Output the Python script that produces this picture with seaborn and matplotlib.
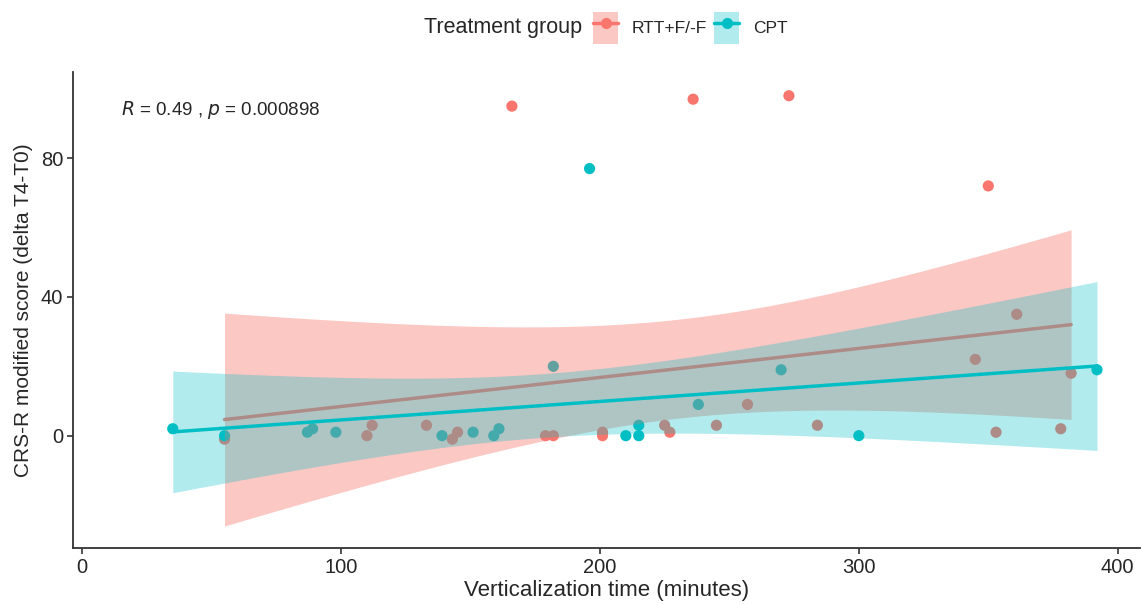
import numpy as np
import pandas as pd
import matplotlib
matplotlib.use("Agg")
import matplotlib.pyplot as plt
import seaborn as sns
from matplotlib.patches import Patch
from matplotlib.lines import Line2D
from matplotlib.legend_handler import HandlerTuple

# values
rtt_time = [166, 236, 273, 350, 55, 112, 110, 133, 143, 145, 179, 182,
            201, 201, 225, 227, 245, 257, 284, 361, 345, 382, 353, 378]
rtt_score = [95, 97, 98, 72, -1, 3, 0, 3, -1, 1, 0, 0,
             1, 0, 3, 1, 3, 9, 3, 35, 22, 18, 1, 2]
cpt_time = [196, 35, 55, 87, 89, 98, 139, 151, 159, 161, 182, 210,
            215, 215, 238, 270, 300, 392]
cpt_score = [77, 2, 0, 1, 2, 1, 0, 1, 0, 2, 20, 0,
             3, 0, 9, 19, 0, 19]
groups = ["RTT+F/-F", "CPT"]
colors = ["#F8766D", "#00BFC4"]
fill_alpha = [0.4, 0.3]

df = pd.DataFrame({
    "time": rtt_time + cpt_time,
    "score": rtt_score + cpt_score,
    "group": [groups[0]] * len(rtt_time) + [groups[1]] * len(cpt_time),
})


def lm_fit(x, y, grid):
    # ordinary least squares with the 95% confidence band (like geom_smooth)
    x = np.asarray(x, float)
    y = np.asarray(y, float)
    n = len(x)
    b, a = np.polyfit(x, y, 1)
    resid = y - (a + b * x)
    s = np.sqrt(np.sum(resid ** 2) / (n - 2))
    sxx = np.sum((x - x.mean()) ** 2)
    se = s * np.sqrt(1 / n + (grid - x.mean()) ** 2 / sxx)
    # t quantile 0.975 for df = n - 2
    tq = {22: 2.074, 16: 2.120}.get(n - 2, 2.0)
    fit = a + b * grid
    return fit, fit - tq * se, fit + tq * se


sns.set_style("ticks")
plt.rcParams["font.family"] = ["Liberation Sans", "DejaVu Sans"]

fig, ax = plt.subplots(figsize=(11.42, 6.04), dpi=100)

# points first, ribbons are drawn on top of them (like ggplot)
sns.scatterplot(data=df, x="time", y="score", hue="group", palette=colors,
                hue_order=groups, s=65, linewidth=0, legend=False, ax=ax, zorder=1)

z = 1.1
for g, c, fa in zip(groups, colors, fill_alpha):
    sub = df[df["group"] == g]
    grid = np.linspace(sub["time"].min(), sub["time"].max(), 80)
    fit, lo, hi = lm_fit(sub["time"], sub["score"], grid)
    ax.fill_between(grid, lo, hi, color=c, alpha=fa, lw=0, zorder=z)
    sns.lineplot(x=grid, y=fit, color=c, lw=2.5, ax=ax, zorder=z + 0.05)
    z += 0.1

ax.text(15, 93.8, "$R$ = 0.49 , $p$ = 0.000898", fontsize=13.5, va="center", ha="left")

ax.set_xlim(-3.5, 408.5)
ax.set_ylim(-32.5, 104.7)
ax.set_xticks([0, 100, 200, 300, 400])
ax.set_yticks([0, 40, 80])
ax.set_xlabel("Verticalization time (minutes)", fontsize=16, labelpad=2)
ax.set_ylabel("CRS-R modified score (delta T4-T0)", fontsize=15, labelpad=6)
ax.tick_params(labelsize=14.5, length=4, width=1.2, color="#333333", pad=3)
sns.despine(ax=ax)
for sp in ["left", "bottom"]:
    ax.spines[sp].set_linewidth(1.3)
    ax.spines[sp].set_color("#333333")

# legend: title to the left of the keys
fig.text(582 / 1142, 1 - 27 / 604, "Treatment group", fontsize=15.5,
         ha="right", va="center")
handles = []
for c, fa in zip(colors, fill_alpha):
    handles.append((Patch(facecolor=c, alpha=fa, edgecolor="none"),
                    Line2D([], [], color=c, lw=2.5, marker="o", markersize=7)))
fig.legend(handles, groups, loc="center left",
           bbox_to_anchor=(593 / 1142, 1 - 28 / 604), ncol=2, frameon=False,
           fontsize=12.5, handler_map={tuple: HandlerTuple(ndivide=1, pad=0)},
           handlelength=1.45, handleheight=2.4, columnspacing=0.4,
           handletextpad=0.8, borderpad=0, borderaxespad=0)

fig.subplots_adjust(left=0.064, right=0.998, top=0.88, bottom=0.092)
fig.savefig("out.png", dpi=100)
